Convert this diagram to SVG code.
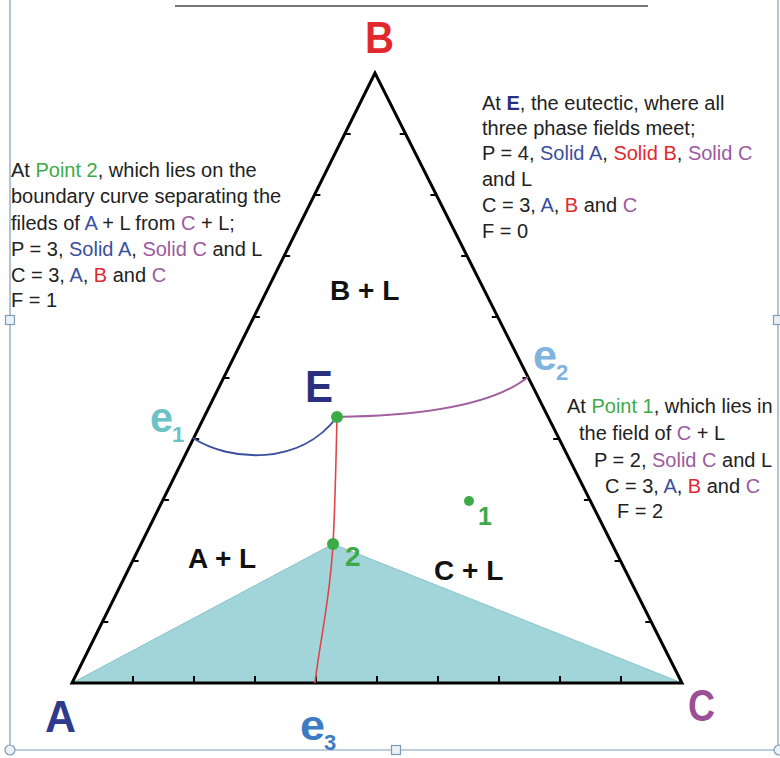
<svg xmlns="http://www.w3.org/2000/svg" width="780" height="758" viewBox="0 0 780 758">
<style>
.t{font-family:"Liberation Sans",Arial,sans-serif;font-size:20px;fill:#222}
.big{font-family:"Liberation Sans",Arial,sans-serif;font-weight:bold;font-size:45px}
.fld{font-family:"Liberation Sans",Arial,sans-serif;font-weight:bold;font-size:28px;fill:#111}
.ee{font-family:"Liberation Sans",Arial,sans-serif;font-weight:bold;font-size:42px}
.sub{font-family:"Liberation Sans",Arial,sans-serif;font-weight:bold;font-size:22px}
.g{fill:#3daa48}.bl{fill:#3a4f9e}.rd{fill:#e0282e}.pu{fill:#9b5aa0}
.tick{stroke:#000;stroke-width:2}
.frame{stroke:#7f9bb8;stroke-width:1.2;fill:none}
.hnd{stroke:#7f9bb8;stroke-width:1.2;fill:#eaf2f8}
.dot{fill:#3daa48}
</style>
<rect width="780" height="758" fill="#fff"/>
<g id="frame">
<line x1="175" y1="6" x2="648" y2="6" stroke="#777" stroke-width="2"/>
<line class="frame" x1="10" y1="0" x2="10" y2="750"/>
<line class="frame" x1="778" y1="0" x2="778" y2="750"/>
<line class="frame" x1="10" y1="750" x2="778" y2="750"/>
<rect class="hnd" x="5.5" y="315.5" width="9" height="9"/>
<rect class="hnd" x="773.5" y="315.5" width="9" height="9"/>
<rect class="hnd" x="391.5" y="745.5" width="9" height="9"/>
<circle class="hnd" cx="10" cy="750" r="5"/>
<circle class="hnd" cx="779" cy="750" r="5"/>
</g>
<g id="teal-field">
<polygon points="72,683 333,544 682,683" fill="#a2d5d9" stroke="#86c3c8" stroke-width="1"/>
</g>
<g id="triangle">
<polygon points="375,73 72,683 682,683" fill="none" stroke="#000" stroke-width="3" stroke-linejoin="miter"/>
<g class="tick">
<line x1="133" y1="683" x2="133" y2="676"/><line x1="194" y1="683" x2="194" y2="676"/><line x1="255" y1="683" x2="255" y2="676"/><line x1="316" y1="683" x2="316" y2="676"/><line x1="377" y1="683" x2="377" y2="676"/><line x1="438" y1="683" x2="438" y2="676"/><line x1="499" y1="683" x2="499" y2="676"/><line x1="560" y1="683" x2="560" y2="676"/><line x1="621" y1="683" x2="621" y2="676"/>
<line x1="102.3" y1="622" x2="108.3" y2="622"/><line x1="132.6" y1="561" x2="138.6" y2="561"/><line x1="162.9" y1="500" x2="168.9" y2="500"/><line x1="193.2" y1="439" x2="199.2" y2="439"/><line x1="223.5" y1="378" x2="229.5" y2="378"/><line x1="253.8" y1="317" x2="259.8" y2="317"/><line x1="284.1" y1="256" x2="290.1" y2="256"/><line x1="314.4" y1="195" x2="320.4" y2="195"/><line x1="344.7" y1="134" x2="350.7" y2="134"/>
<line x1="405.7" y1="134" x2="399.7" y2="134"/><line x1="436.4" y1="195" x2="430.4" y2="195"/><line x1="467.1" y1="256" x2="461.1" y2="256"/><line x1="497.8" y1="317" x2="491.8" y2="317"/><line x1="528.5" y1="378" x2="522.5" y2="378"/><line x1="559.2" y1="439" x2="553.2" y2="439"/><line x1="589.9" y1="500" x2="583.9" y2="500"/><line x1="620.6" y1="561" x2="614.6" y2="561"/><line x1="651.3" y1="622" x2="645.3" y2="622"/>
</g>
</g>
<g id="connectors" fill="none">
<path d="M193,438 C230,462 300,466 337,417" stroke="#3a4f9e" stroke-width="2"/>
<path d="M337,417 C420,416 492,406 528,377" stroke="#a0609e" stroke-width="2"/>
<path d="M337,417 C336,460 335,510 333,544 C330,600 320,640 315,683" stroke="#e0454a" stroke-width="1.6"/>
</g>
<g id="node-E">
<circle class="dot" cx="337" cy="417" r="6"/>
<text class="big" x="305" y="402" fill="#2b2f7f" textLength="28" lengthAdjust="spacingAndGlyphs">E</text>
</g>
<g id="node-point2">
<circle class="dot" cx="333" cy="544" r="6"/>
<text class="fld g" x="345" y="566">2</text>
</g>
<g id="node-point1">
<circle class="dot" cx="469" cy="501" r="5"/>
<text class="fld g" x="478" y="525" style="font-size:25px">1</text>
</g>
<g id="vertex-labels">
<text class="big" x="365" y="53" fill="#e0282e" textLength="29" lengthAdjust="spacingAndGlyphs">B</text>
<text class="big" x="45" y="732" fill="#2e3a8c" textLength="31" lengthAdjust="spacingAndGlyphs">A</text>
<text class="big" x="688" y="721" fill="#9b4f96" textLength="27" lengthAdjust="spacingAndGlyphs">C</text>
</g>
<g id="eutectic-labels">
<text class="ee" x="150" y="432" fill="#6cc3c6" textLength="23" lengthAdjust="spacingAndGlyphs">e</text><text class="sub" x="172" y="442" fill="#6cc3c6">1</text>
<text class="ee" x="533" y="370" fill="#7fb3e0" textLength="24" lengthAdjust="spacingAndGlyphs">e</text><text class="sub" x="556" y="380" fill="#7fb3e0">2</text>
<text class="ee" x="300" y="740" fill="#3d7cc0" textLength="25" lengthAdjust="spacingAndGlyphs">e</text><text class="sub" x="324" y="750" fill="#3d7cc0">3</text>
</g>
<g id="field-labels">
<text class="fld" x="330" y="300">B + L</text>
<text class="fld" x="188" y="568">A + L</text>
<text class="fld" x="434" y="580">C + L</text>
</g>
<g id="text-point2">
<text class="t" x="11" y="177">At <tspan class="g">Point 2</tspan>, which lies on the</text>
<text class="t" x="11" y="203">boundary curve separating the</text>
<text class="t" x="11" y="230">fileds of <tspan class="bl">A</tspan> + L from <tspan class="pu">C</tspan> + L;</text>
<text class="t" x="11" y="256">P = 3, <tspan class="bl">Solid A</tspan>, <tspan class="pu">Solid C</tspan> and L</text>
<text class="t" x="11" y="282">C = 3, <tspan class="bl">A</tspan>, <tspan class="rd">B</tspan> and <tspan class="pu">C</tspan></text>
<text class="t" x="11" y="307">F = 1</text>
</g>
<g id="text-E">
<text class="t" x="482" y="110">At <tspan fill="#2b2f7f" font-weight="bold">E</tspan>, the eutectic, where all</text>
<text class="t" x="482" y="135">three phase fields meet;</text>
<text class="t" x="482" y="160">P = 4, <tspan class="bl">Solid A</tspan>, <tspan class="rd">Solid B</tspan>, <tspan class="pu">Solid C</tspan></text>
<text class="t" x="482" y="186">and L</text>
<text class="t" x="482" y="212">C = 3, <tspan class="bl">A</tspan>, <tspan class="rd">B</tspan> and <tspan class="pu">C</tspan></text>
<text class="t" x="482" y="238">F = 0</text>
</g>
<g id="text-point1">
<text class="t" x="567" y="413">At <tspan class="g">Point 1</tspan>, which lies in</text>
<text class="t" x="579" y="440">the field of <tspan class="pu">C</tspan> + L</text>
<text class="t" x="594" y="467">P = 2, <tspan class="pu">Solid C</tspan> and L</text>
<text class="t" x="605" y="493">C = 3, <tspan class="bl">A</tspan>, <tspan class="rd">B</tspan> and <tspan class="pu">C</tspan></text>
<text class="t" x="617" y="518">F = 2</text>
</g>
</svg>
